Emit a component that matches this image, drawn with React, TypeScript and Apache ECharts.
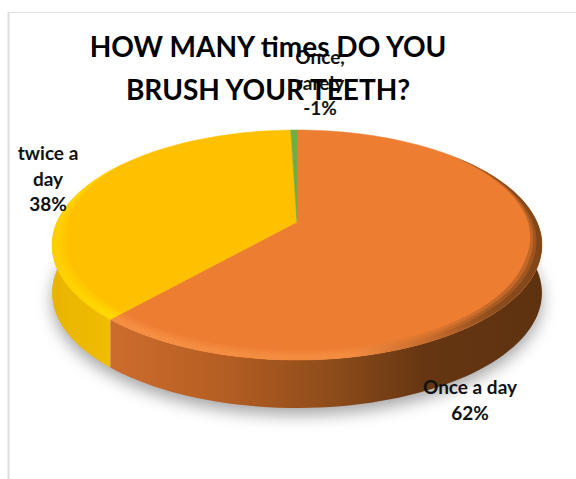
import React, { useEffect, useRef } from "react";
import * as echarts from "echarts";

const categories = ["Once a day", "twice a day", "Once, rarely"];
const values = [61.5, 38, 0.5];
const percentLabels = ["62%", "38%", "-1%"];
const displayNames = ["Once a day", "twice a\nday", "Once,\nrarely"];
const titleLines = ["HOW MANY times DO YOU", "BRUSH YOUR TEETH?"];

const CX = 297, CY = 222, R = 240, A = 110.4, P = 0.2, DEPTH = 48;
const total = values.reduce((a, b) => a + b, 0);
const proj = (deg: number, dz = 0, k = 1) => {
  const t = (deg * Math.PI) / 180;
  const u = Math.sin(t), v = Math.cos(t), w = 1 + P * v * k;
  return [CX + (R * u * k) / w, CY - (A * v * k) / w + dz];
};
const arc = (a: number, b: number, dz = 0) => {
  const out: number[][] = [];
  const n = Math.max(2, Math.ceil(Math.abs(b - a) / 2));
  for (let i = 0; i <= n; i++) out.push(proj(a + ((b - a) * i) / n, dz));
  return out;
};
// band along the edge of the disc; its width fades out towards the back of the disc
const band = (a: number, b: number, width: number, fadeFrom: number, fadeTo: number) => {
  const outer: number[][] = [];
  const inner: number[][] = [];
  const n = Math.ceil(Math.abs(b - a) / 2);
  for (let i = 0; i <= n; i++) {
    const d = a + ((b - a) * i) / n;
    const f = Math.min(1, Math.max(0, (d - fadeFrom) / (fadeTo - fadeFrom)));
    outer.push(proj(d));
    inner.push(proj(d, 0, 1 - width * f));
  }
  return [...outer, ...inner.reverse()];
};
const grad = (x: number, x2: number, stops: [number, string][]) => ({
  type: "linear", x, y: 0, x2, y2: 0, global: true,
  colorStops: stops.map(([offset, color]) => ({ offset, color })),
});
const topColors = ["#ED7D31", "#FFC000", "#70AD47"];
const rimFills = [
  grad(115, 545, [[0, "#F79246"], [0.55, "#F58E42"], [0.75, "#B8642A"], [0.88, "#7A4418"], [1, "#6B3A14"]]),
  grad(50, 120, [[0, "#FFD000"], [1, "#FFE000"]]),
  "#70AD47",
];
const sideFills = [
  grad(115, 545, [[0, "#CC6C2C"], [0.25, "#B55E23"], [0.5, "#8E4C1A"], [0.72, "#663612"], [1, "#5E3210"]]),
  grad(50, 120, [[0, "#E8B400"], [1, "#F2BE00"]]),
  "#5E8F3A",
];
const rimRanges = [[45, 223], [221, 305], [0, 0]];
const rimFades = [[45, 110], [305, 265], [0, 1]];
const labelBoxes = [
  { x: 470, y: 374 },
  { x: 48, y: 140 },
  { x: 320, y: 44 },
];

export default function App() {
  const ref = useRef<HTMLDivElement>(null);
  useEffect(() => {
    const chart = echarts.init(ref.current!, undefined, { renderer: "svg" });
    const renderItem = (params: any, api: any) => {
      const i = params.dataIndex;
      const before = values.slice(0, i).reduce((a, b) => a + b, 0);
      const a0 = (before / total) * 360;
      const a1 = ((before + api.value(0)) / total) * 360;
      const children: any[] = [];
      const s0 = Math.max(a0, 90), s1 = Math.min(a1, 270);
      if (s1 > s0) {
        children.push({
          type: "polygon",
          shape: { points: [...arc(s0, s1), ...arc(s1, s0, DEPTH)] },
          style: { fill: sideFills[i] },
        });
      }
      children.push({
        type: "polygon",
        shape: { points: [[CX, CY], ...arc(a0, a1)] },
        style: { fill: topColors[i], stroke: topColors[i], lineWidth: 0.5 },
      });
      const r0 = Math.max(a0, rimRanges[i][0]), r1 = Math.min(a1, rimRanges[i][1]);
      if (r1 > r0) {
        [[0.055, 0.35], [0.04, 0.4], [0.025, 0.6]].forEach(([width, opacity]) => {
          children.push({
            type: "polygon",
            shape: { points: band(r0, r1, width, rimFades[i][0], rimFades[i][1]) },
            style: { fill: rimFills[i], opacity },
          });
        });
      }
      return { type: "group", children };
    };
    const renderShadow = () => ({
      type: "polygon",
      shape: { points: arc(0, 360, DEPTH - 3) },
      style: { fill: "#DADADA", shadowBlur: 16, shadowColor: "rgba(0,0,0,0.35)", shadowOffsetY: 10 },
    });
    const renderLabel = (params: any) => {
      const i = params.dataIndex;
      return {
        type: "text",
        z2: 100,
        x: labelBoxes[i].x,
        y: labelBoxes[i].y,
        style: {
          text: `${displayNames[i]}\n${percentLabels[i]}`,
          font: "bold 19px Lato, sans-serif",
          fill: "#111111",
          align: "center",
          verticalAlign: "top",
          lineHeight: 25.5,
        },
      };
    };
    const rows = categories.map((name, i) => ({ name, value: [values[i]] }));
    chart.setOption({
      animation: false,
      backgroundColor: "#FFFFFF",
      title: {
        text: titleLines.join("\n"),
        left: 263,
        top: 19,
        textAlign: "center",
        textStyle: { fontFamily: "Lato, sans-serif", fontSize: 28, fontWeight: "bold", color: "#000000", lineHeight: 43 },
      },
      graphic: [
        { type: "line", shape: { x1: 8, y1: 12.5, x2: 576, y2: 12.5 }, style: { stroke: "#DDDDDD", lineWidth: 1 } },
        { type: "line", shape: { x1: 8.5, y1: 12, x2: 8.5, y2: 479 }, style: { stroke: "#DDDDDD", lineWidth: 2 } },
      ],
      series: [
        { type: "custom", coordinateSystem: "none", renderItem: renderShadow, clip: false, z: 1, data: [rows[0]], silent: true },
        { type: "custom", coordinateSystem: "none", renderItem, clip: false, z: 2, data: rows },
        { type: "custom", coordinateSystem: "none", renderItem: renderLabel, clip: false, z: 5, data: rows },
      ],
    });
    return () => chart.dispose();
  }, []);
  return <div ref={ref} style={{ position: "absolute", left: 0, top: 0, width: 576, height: 479 }} />;
}
